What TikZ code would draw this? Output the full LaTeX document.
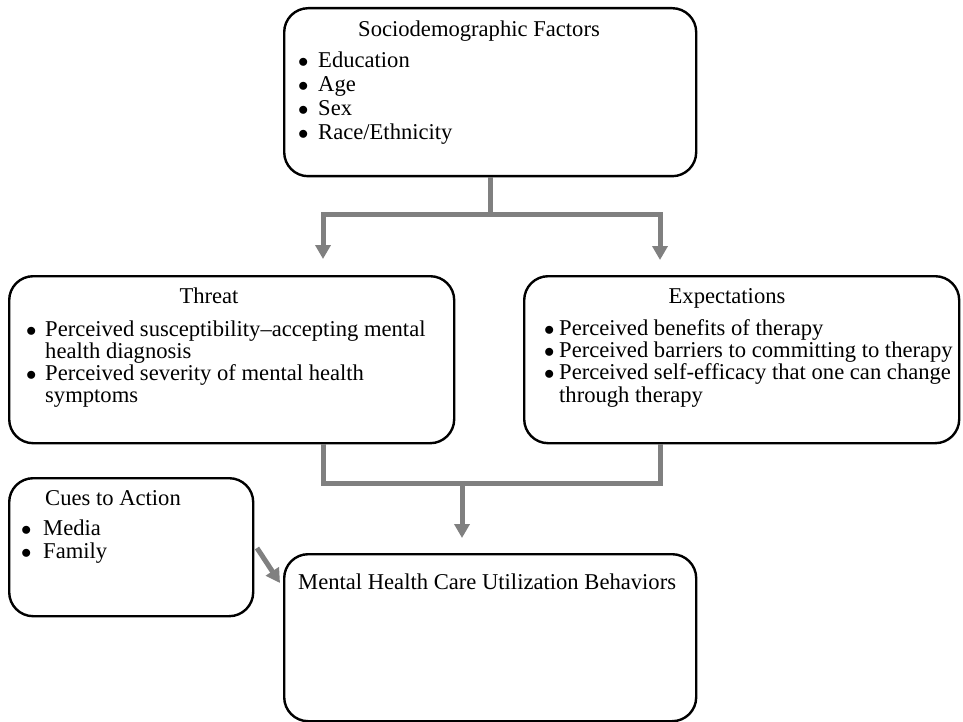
\documentclass[tikz,border=0pt]{standalone}
\usepackage{fontspec}
\setmainfont{Liberation Serif}
\usetikzlibrary{arrows.meta,calc}
\definecolor{linegray}{RGB}{128,128,128}
\newcommand{\blist}[2]{\begin{tabular}[t]{@{}p{#1}@{}l@{}}#2\end{tabular}}
\newcommand{\mybul}{$\bullet$}
\begin{document}
\begin{tikzpicture}[x=1pt,y=-1pt,
  box/.style={draw=black,line width=2.4pt,rounded corners=24pt,anchor=north west,inner sep=0pt},
  txt/.style={inner sep=0pt,font=\fontsize{22.6}{22}\selectfont},
  txtb/.style={inner sep=0pt,font=\fontsize{22.6}{24}\selectfont},
  gline/.style={draw=linegray,line width=5pt},
  garrow/.style={gline,-{Triangle[width=15pt,length=14pt]}},
]
\fill[white] (0,0) rectangle (963,722);
\useasboundingbox (0,0) rectangle (963,722);

% boxes
\node[box,minimum width=412pt,minimum height=168pt] (socio) at (283,7) {};
\node[box,minimum width=445pt,minimum height=167pt] (threat) at (8,275) {};
\node[box,minimum width=435pt,minimum height=167pt] (expect) at (523,275) {};
\node[box,minimum width=244pt,minimum height=138pt] (cues) at (8,477) {};
\node[box,minimum width=412pt,minimum height=167pt] (mental) at (283,553) {};

% texts
\node[txt,anchor=base] (sociot) at (479,37) {Sociodemographic Factors};
\node[txtb,anchor=base west] (sociol) at (298,68) {\blist{20pt}{\mybul & Education\\ \mybul & Age\\ \mybul & Sex\\ \mybul & Race/Ethnicity}};

\node[txt,anchor=base] (threatt) at (209,303) {Threat};
\node[txt,anchor=base west] (threatl) at (26,336) {\blist{19pt}{\mybul & Perceived susceptibility--accepting mental\\ & health diagnosis\\ \mybul & Perceived severity of mental health\\ & symptoms}};

\node[txt,anchor=base] (expectt) at (727,303) {Expectations};
\node[txt,anchor=base west] (expectl) at (544,335) {\blist{15pt}{\mybul & Perceived benefits of therapy\\ \mybul & Perceived barriers to committing to therapy\\ \mybul & Perceived self-efficacy that one can change\\ & through therapy}};

\node[txt,anchor=base west] (cuest) at (45,505) {Cues to Action};
\node[txt,anchor=base west,font=\fontsize{22.6}{23}\selectfont] (cuesl) at (21,535) {\blist{22pt}{\mybul & Media\\ \mybul & Family}};

\node[txt,anchor=base west] (mentalt) at (298,589) {Mental Health Care Utilization Behaviors};

% connectors
\coordinate (j1) at (490,214);
\coordinate (ta) at (323,259);
\coordinate (ea) at (660,260);
\draw[gline] (socio.south -| j1) -- (j1);
\draw[garrow] (j1) -| (ta);
\draw[garrow] (j1) -| (ea);

\coordinate (j2) at (462,483);
\coordinate (ma) at (462,538);
\draw[gline,line join=miter] (threat.south -| ta) |- (ea |- j2) -- (expect.south -| ea);
\draw[garrow] (j2) -- (ma);

\coordinate (cs) at (257,548);
\coordinate (ce) at (280,583);
\draw[garrow] (cs) -- (ce);
\end{tikzpicture}
\end{document}
